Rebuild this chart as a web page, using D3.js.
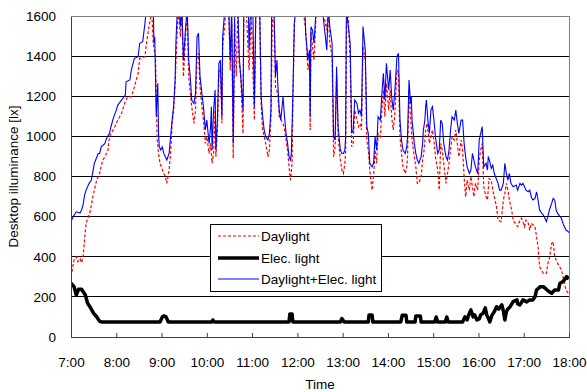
<!DOCTYPE html>
<html><head><meta charset="utf-8">
<script src="https://cdn.jsdelivr.net/npm/d3@7"></script>
<style>
html,body{margin:0;padding:0;background:#fff;}
svg{display:block;font-family:"Liberation Sans",Arial,sans-serif;}
</style></head><body>
<svg id="chart" width="587" height="392"></svg>
<script>
// minutes after 7:00, illuminance [lx]
const hourLabels = ["7:00","8:00","9:00","10:00","11:00","12:00","13:00","14:00","15:00","16:00","17:00","18:00"];
const yTicks = [0,200,400,600,800,1000,1200,1400,1600];
const seriesNames = ["Daylight","Elec. light","Daylight+Elec. light"];

const daylight = [[0,300],[4,384],[7,400],[9,375],[12,390],[14,370],[16,400],[20,568],[25,618],[29,700],[34,782],[38,817],[42,882],[45,898],[49,932],[51,998],[58,1048],[62,1081],[67,1115],[71,1164],[75,1197],[80,1197],[84,1247],[89,1314],[91,1389],[98,1397],[100,1464],[104,1563],[107,1620],[109,1464],[112,1397],[114,998],[116,915],[118,866],[123,815],[125,800],[127,766],[130,832],[132,915],[134,1065],[136,1131],[138,1264],[141,1547],[142,1640],[145,1497],[147,1620],[149,1298],[152,1514],[154,1620],[156,1298],[160,1148],[163,1065],[165,1131],[167,1397],[169,1414],[171,1247],[174,1131],[176,1065],[178,965],[180,998],[183,915],[185,965],[187,866],[189,915],[191,1131],[192,898],[194,1032],[196,1298],[198,1347],[200,1065],[201,1447],[204,1563],[205,1640],[209,1640],[211,1330],[213,1563],[215,890],[217,1563],[219,1300],[221,1620],[223,1364],[225,1300],[228,1015],[229,1600],[232,1650],[236,1330],[239,1600],[243,1081],[245,1620],[250,1650],[252,1164],[254,1032],[258,965],[261,898],[263,932],[265,1098],[267,1620],[269,1620],[271,1247],[274,1214],[276,1098],[281,1065],[283,1032],[287,932],[289,848],[291,782],[293,866],[294,1148],[296,1560],[298,1650],[307,1650],[311,1530],[314,1331],[316,1380],[317,1032],[318,1520],[320,1450],[322,1380],[325,1620],[333,1640],[339,1530],[341,1640],[343,1464],[346,1400],[348,898],[350,948],[352,1298],[354,998],[357,882],[359,832],[361,815],[363,866],[364,932],[365,1547],[367,1620],[370,1380],[372,948],[374,965],[376,1131],[379,1081],[381,1048],[383,1065],[385,1032],[387,1447],[390,1380],[392,982],[394,932],[396,832],[399,732],[401,800],[403,932],[405,866],[407,1015],[410,998],[412,1131],[414,1231],[416,1098],[418,1264],[421,1131],[423,1231],[425,1098],[427,1032],[429,1098],[432,1331],[434,1314],[436,998],[438,915],[440,848],[443,815],[445,848],[446,898],[448,1231],[450,1098],[452,982],[455,898],[457,848],[459,766],[461,766],[464,800],[466,882],[468,932],[470,1032],[472,1065],[475,965],[477,998],[479,1032],[481,982],[483,898],[486,832],[488,732],[490,965],[492,932],[494,866],[497,766],[499,815],[501,866],[503,932],[505,998],[508,982],[510,1032],[512,965],[514,898],[517,982],[519,932],[521,800],[523,699],[525,782],[528,732],[530,800],[532,749],[534,699],[536,766],[539,732],[541,882],[543,932],[545,965],[547,749],[550,699],[552,683],[554,790],[557,782],[559,732],[564,649],[566,583],[570,575],[573,683],[575,716],[577,766],[579,732],[581,683],[584,633],[586,583],[590,558],[592,550],[595,583],[597,592],[599,575],[601,550],[603,583],[606,567],[608,533],[610,567],[615,550],[617,500],[619,450],[621,351],[626,317],[630,317],[632,367],[634,392],[637,467],[639,475],[641,400],[645,367],[650,334],[654,268],[656,234],[659,218],[660,210]];

const elecLight = [[0,268],[4,251],[7,209],[10,238],[14,238],[19,209],[22,168],[25,151],[30,118],[34,101],[38,78],[41,75],[118,75],[121,100],[123,105],[126,100],[129,75],[187,75],[188,85],[190,75],[289,75],[290,115],[293,115],[294,75],[357,75],[359,92],[362,75],[394,75],[395,110],[399,110],[400,75],[437,75],[439,108],[444,108],[445,75],[456,75],[457,105],[463,105],[464,75],[482,75],[484,100],[486,75],[496,75],[498,100],[500,75],[519,75],[522,100],[525,85],[527,110],[530,135],[533,100],[535,110],[538,85],[541,90],[543,110],[546,118],[549,145],[551,110],[553,95],[555,75],[558,110],[561,126],[564,151],[567,140],[571,160],[573,130],[575,85],[577,126],[579,140],[582,151],[586,176],[591,185],[592,165],[595,160],[599,185],[604,175],[608,185],[612,185],[615,201],[617,234],[622,251],[626,251],[631,234],[634,225],[637,218],[641,234],[646,234],[648,268],[652,276],[657,301],[660,290]];

const total = [[0,575],[3,600],[7,624],[12,618],[14,633],[16,658],[18,707],[20,732],[24,766],[27,782],[29,824],[31,866],[36,915],[38,915],[40,948],[45,965],[47,990],[51,1015],[53,1048],[56,1090],[60,1131],[62,1156],[67,1181],[72,1206],[73,1272],[78,1281],[80,1331],[84,1389],[89,1397],[91,1464],[95,1472],[98,1563],[100,1640],[109,1640],[110,1464],[111,1497],[113,1098],[115,1265],[116,1015],[117,948],[119,932],[121,948],[123,915],[125,898],[127,882],[130,915],[132,998],[134,1081],[136,1148],[138,1281],[139,1464],[141,1640],[143,1640],[145,1547],[147,1640],[149,1380],[152,1547],[154,1640],[156,1380],[158,1298],[160,1181],[163,1164],[165,1214],[167,1497],[169,1514],[171,1298],[174,1197],[176,1131],[178,1032],[180,1081],[183,965],[185,1048],[186,1148],[187,932],[189,1131],[191,1231],[192,932],[194,1081],[196,1364],[198,1380],[200,1098],[201,1497],[204,1640],[209,1640],[211,1380],[213,1640],[215,965],[217,1640],[221,1650],[223,1397],[225,1298],[228,1131],[229,1640],[235,1640],[236,1430],[238,1640],[241,1640],[243,1148],[245,1640],[250,1640],[252,1197],[254,1098],[256,1032],[258,998],[261,982],[263,1015],[265,1131],[266,1640],[269,1640],[271,1298],[273,1380],[274,1264],[276,1131],[278,1081],[281,1197],[283,1098],[285,1015],[287,965],[289,898],[291,882],[292,915],[294,1197],[296,1563],[298,1640],[310,1640],[311,1514],[314,1380],[316,1430],[317,1098],[318,1547],[320,1530],[322,1464],[325,1640],[333,1640],[339,1430],[341,1640],[343,1547],[346,1464],[348,998],[350,982],[352,1347],[354,1048],[357,932],[359,915],[361,915],[363,932],[364,998],[365,1640],[367,1563],[370,1464],[372,1015],[374,1032],[376,1181],[379,1164],[381,1115],[383,1131],[385,1098],[387,1547],[390,1430],[392,1048],[394,1015],[396,866],[399,848],[401,866],[403,998],[405,932],[407,1098],[410,1081],[412,1214],[414,1314],[416,1181],[418,1364],[421,1231],[423,1331],[425,1197],[427,1131],[429,1214],[432,1397],[434,1414],[436,1081],[438,982],[440,932],[443,915],[445,948],[446,998],[448,1281],[450,1164],[451,1197],[452,1081],[455,965],[457,915],[459,882],[461,866],[464,898],[466,965],[467,1032],[469,1081],[470,1148],[471,1181],[473,1081],[475,1015],[477,1131],[479,1148],[481,1081],[483,998],[486,915],[488,932],[490,1081],[492,1065],[494,965],[497,898],[499,882],[501,932],[503,1032],[505,1098],[508,1081],[510,1131],[512,1065],[514,1015],[517,1081],[519,1081],[521,965],[523,898],[525,848],[528,815],[530,832],[532,915],[534,882],[536,848],[539,815],[541,982],[543,1015],[545,1048],[547,848],[550,866],[552,832],[553,900],[555,874],[557,840],[559,857],[561,815],[566,766],[568,732],[570,732],[573,766],[575,866],[576,840],[577,815],[579,782],[581,815],[583,766],[586,749],[590,757],[592,732],[595,766],[597,757],[599,766],[601,749],[603,732],[606,724],[608,732],[610,699],[612,683],[615,691],[617,724],[619,683],[621,633],[624,616],[626,608],[628,592],[630,575],[632,600],[634,633],[637,666],[639,691],[641,683],[643,633],[645,616],[648,600],[650,592],[652,567],[654,550],[656,533],[659,525],[660,520]];

const L = 71, R = 569, T = 16, B = 337;
const svg = d3.select("#chart");
const x = d3.scaleLinear().domain([0, 660]).range([L, R]);
const y = d3.scaleLinear().domain([0, 1600]).range([B, T]);
const FS = "13.5px";

// gridlines
svg.append("g").selectAll("line").data(yTicks.filter(v => v > 0 && v < 1600)).join("line")
  .attr("x1", L).attr("x2", R).attr("y1", d => y(d)).attr("y2", d => y(d))
  .attr("stroke", "#000").attr("stroke-width", 1).attr("shape-rendering", "crispEdges");

svg.append("defs").append("clipPath").attr("id", "clip")
  .append("rect").attr("x", L).attr("y", T).attr("width", R - L).attr("height", B - T);

const line = d3.line().x(d => x(d[0])).y(d => y(d[1]));
const g = svg.append("g").attr("clip-path", "url(#clip)");
g.append("path").datum(daylight).attr("d", line).attr("fill", "none")
  .attr("stroke", "#ff0000").attr("stroke-width", 1.2).attr("stroke-dasharray", "3,2");
g.append("path").datum(elecLight).attr("d", line).attr("fill", "none")
  .attr("stroke", "#000").attr("stroke-width", 3.5).attr("stroke-linejoin", "round");
g.append("path").datum(total).attr("d", line).attr("fill", "none")
  .attr("stroke", "#0000ff").attr("stroke-width", 1.1);

// plot border
svg.append("rect").attr("x", L).attr("y", T).attr("width", R - L).attr("height", B - T)
  .attr("fill", "none").attr("stroke", "#808080").attr("stroke-width", 1).attr("shape-rendering", "crispEdges");

// x axis
const xAxis = d3.axisBottom(x).tickValues(hourLabels.map((_, i) => i * 60))
  .tickFormat((d, i) => hourLabels[i]).tickSizeInner(-4).tickSizeOuter(0).tickPadding(20);
const gx = svg.append("g").attr("transform", `translate(0,${B})`).call(xAxis);
gx.select(".domain").attr("stroke", "#404040").attr("shape-rendering", "crispEdges");
gx.selectAll(".tick line").attr("stroke", "#404040");
gx.selectAll("text").attr("font-size", FS).attr("fill", "#000").attr("font-family", "Liberation Sans, Arial, sans-serif");

// y axis
const yAxis = d3.axisLeft(y).tickValues(yTicks).tickFormat(d3.format("d")).tickSize(0).tickPadding(15);
const gy = svg.append("g").attr("transform", `translate(${L},0)`).call(yAxis);
gy.select(".domain").attr("stroke", "#404040").attr("shape-rendering", "crispEdges");
gy.selectAll("text").attr("font-size", FS).attr("fill", "#000").attr("font-family", "Liberation Sans, Arial, sans-serif");

// axis titles
svg.append("text").attr("x", (L + R) / 2).attr("y", 389).attr("text-anchor", "middle")
  .attr("font-size", FS).text("Time");
svg.append("text").attr("transform", `translate(18,${(T + B) / 2}) rotate(-90)`)
  .attr("text-anchor", "middle").attr("font-size", FS).text("Desktop illuminance [lx]");

// legend
const lg = svg.append("g");
lg.append("rect").attr("x", 210.5).attr("y", 224.5).attr("width", 171).attr("height", 67)
  .attr("fill", "#fff").attr("stroke", "#000").attr("stroke-width", 1);
const styles = [
  {stroke: "#ff0000", w: 1.2, dash: "3,2"},
  {stroke: "#000", w: 3.5, dash: null},
  {stroke: "#0000ff", w: 1.1, dash: null}
];
const ly = [236, 258, 279];
seriesNames.forEach((name, i) => {
  lg.append("line").attr("x1", 218).attr("x2", 259).attr("y1", ly[i]).attr("y2", ly[i])
    .attr("stroke", styles[i].stroke).attr("stroke-width", styles[i].w)
    .attr("stroke-dasharray", styles[i].dash);
  lg.append("text").attr("x", 261).attr("y", ly[i]).attr("dy", "0.36em")
    .attr("font-size", FS).text(name);
});
</script>
</body></html>
